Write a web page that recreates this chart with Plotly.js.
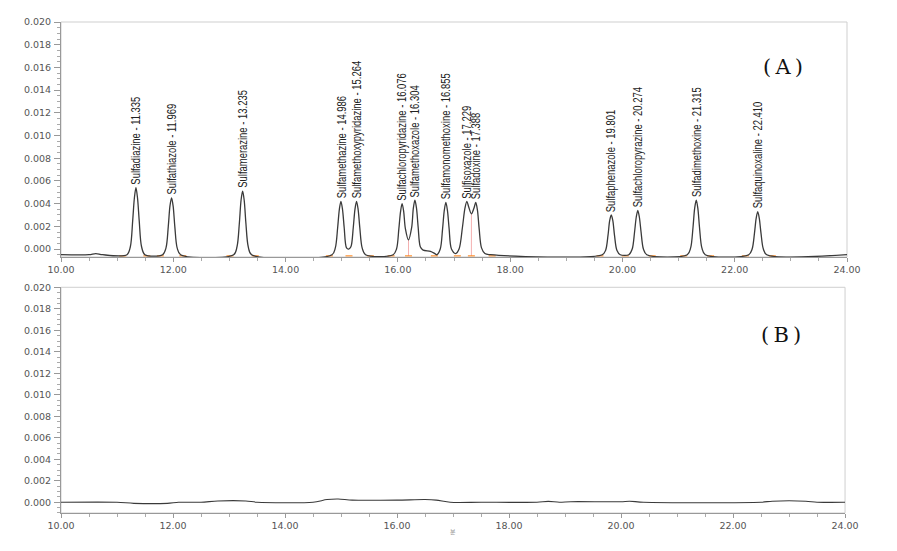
<!DOCTYPE html>
<html>
<head>
<meta charset="utf-8">
<script src="https://cdn.plot.ly/plotly-3.0.1.min.js"></script>
<style>html,body{margin:0;padding:0;background:#fff;}#chart{width:897px;height:551px;}</style>
</head>
<body>
<div id="chart"></div>
<script>
// ---- Data ----
// Panel (A): standard mixture chromatogram (time in min, absorbance)
var timeA = [10.00, 10.50, 10.62, 10.74,
  11.175, 11.235, 11.277, 11.307, 11.335, 11.363, 11.393, 11.435, 11.495,
  11.81, 11.87, 11.911, 11.941, 11.969, 11.997, 12.027, 12.069, 12.13,
  13.075, 13.135, 13.177, 13.207, 13.235, 13.263, 13.293, 13.335, 13.395,
  14.826, 14.886, 14.928, 14.958, 14.986, 15.014, 15.044, 15.086, 15.125,
  15.164, 15.206, 15.236, 15.264, 15.292, 15.322, 15.364, 15.424,
  15.916, 15.976, 16.018, 16.048, 16.076, 16.104, 16.134, 16.19,
  16.246, 16.276, 16.304, 16.332, 16.362, 16.40, 16.45, 16.58, 16.66,
  16.695, 16.755, 16.797, 16.827, 16.855, 16.883, 16.913, 16.955, 17.03,
  17.09, 17.15, 17.195, 17.229, 17.262, 17.31, 17.355, 17.388, 17.418, 17.448, 17.49, 17.55, 17.65,
  19.641, 19.701, 19.743, 19.773, 19.801, 19.829, 19.859, 19.901, 19.961,
  20.114, 20.174, 20.216, 20.246, 20.274, 20.302, 20.332, 20.374, 20.434,
  21.155, 21.215, 21.257, 21.287, 21.315, 21.343, 21.373, 21.415, 21.475,
  22.25, 22.31, 22.352, 22.382, 22.41, 22.438, 22.468, 22.51, 22.57,
  24.00];
var signalA = [-0.0005, -0.0005, -0.0004, -0.0005,
  -0.0005, 0.0002, 0.0025, 0.0045, 0.0054, 0.0045, 0.0025, 0.0002, -0.0005,
  -0.0005, 0.0001, 0.0020, 0.0038, 0.0045, 0.0038, 0.0020, 0.0001, -0.0005,
  -0.0005, 0.0002, 0.0023, 0.0043, 0.0051, 0.0043, 0.0023, 0.0002, -0.0005,
  -0.0005, 0.0001, 0.0019, 0.0035, 0.0042, 0.0035, 0.0019, 0.0001, 0.0000,
  0.0002, 0.0019, 0.0035, 0.0042, 0.0035, 0.0019, 0.0001, -0.0005,
  -0.0005, 0.0000, 0.0018, 0.0033, 0.0040, 0.0033, 0.0018, 0.0008,
  0.0019, 0.0036, 0.0043, 0.0036, 0.0019, 0.0002, -0.0001, -0.0002, -0.0004,
  -0.0005, 0.0000, 0.0018, 0.0034, 0.0041, 0.0034, 0.0018, 0.0000, -0.0004,
  0.0000, 0.0019, 0.0036, 0.0042, 0.0037, 0.0031, 0.0036, 0.0041, 0.0034, 0.0018, 0.0001, -0.0004, -0.0005,
  -0.0005, -0.0001, 0.0012, 0.0025, 0.0030, 0.0025, 0.0012, -0.0001, -0.0005,
  -0.0005, 0.0000, 0.0015, 0.0028, 0.0034, 0.0028, 0.0015, 0.0000, -0.0005,
  -0.0005, 0.0001, 0.0019, 0.0036, 0.0043, 0.0036, 0.0019, 0.0001, -0.0005,
  -0.0005, 0.0000, 0.0014, 0.0027, 0.0033, 0.0027, 0.0014, 0.0000, -0.0005,
  -0.0005];

// Peak labels (panel A)
var peakNames = ["Sulfadiazine", "Sulfathiazole", "Sulfamerazine", "Sulfamethazine",
  "Sulfamethoxypyridazine", "Sulfachloropyridazine", "Sulfamethoxazole", "Sulfamonomethoxine",
  "Sulfisoxazole", "Sulfadoxine", "Sulfaphenazole", "Sulfachloropyrazine",
  "Sulfadimethoxine", "Sulfaquinoxaline"];
var peakTimes = [11.335, 11.969, 13.235, 14.986, 15.264, 16.076, 16.304, 16.855,
  17.229, 17.388, 19.801, 20.274, 21.315, 22.410];
var peakHeights = [0.0054, 0.0045, 0.0051, 0.0042, 0.0042, 0.0040, 0.0043, 0.0041,
  0.0042, 0.0041, 0.0030, 0.0034, 0.0043, 0.0033];

// Integration event marks (panel A)
var eventTimes = [11.10, 11.53, 11.77, 12.17, 13.01, 13.46, 14.78, 15.13, 15.51, 15.88,
  16.19, 16.65, 17.06, 17.31, 17.68, 19.60, 20.05, 20.53, 21.09, 21.57, 22.19, 22.67];
var eventLevel = -0.0006;
var dropTimes = [16.19, 17.31];
var dropTops = [0.0008, 0.0031];

// Panel (B): blank sample chromatogram
var timeB = [10.0, 11.0, 11.3, 11.9, 12.1, 12.5, 12.8, 13.3, 13.5, 14.5, 14.75, 14.95, 15.2,
  16.0, 16.5, 16.7, 16.95, 17.5, 18.5, 18.7, 18.9, 19.1, 20.0, 20.15, 20.4, 22.5, 22.7, 23.3, 23.5, 24.0];
var signalB = [0.0000, 0.0000, -0.0001, -0.0001, 0.0000, 0.0000, 0.00012, 0.00012, 0.0000, 0.0000,
  0.00025, 0.0003, 0.0002, 0.0002, 0.00025, 0.0002, 0.0000, 0.0000, 0.0000, 0.00008, 0.0000,
  0.00005, 0.00005, 0.0001, 0.0000, 0.0000, 0.0001, 0.0001, 0.0000, 0.0000];

var yTicks = [0.000, 0.002, 0.004, 0.006, 0.008, 0.010, 0.012, 0.014, 0.016, 0.018, 0.020];
var xTicks = [10, 12, 14, 16, 18, 20, 22, 24];
var panelLabels = ["(\u2009A\u2009)", "(\u2009B\u2009)"];
var unitLabel = "분";

// ---- Build traces ----
var dropX = [], dropY = [];
for (var i = 0; i < dropTimes.length; i++) {
  dropX.push(dropTimes[i], dropTimes[i], null);
  dropY.push(eventLevel, dropTops[i], null);
}
var evY = eventTimes.map(function(){ return eventLevel; });

var traces = [
  {x: dropX, y: dropY, xaxis: 'x', yaxis: 'y', mode: 'lines', line: {color: '#f4b0b0', width: 1}, hoverinfo: 'skip'},
  {x: eventTimes, y: evY, xaxis: 'x', yaxis: 'y', mode: 'markers',
   marker: {symbol: 'line-ew-open', size: 5, line: {color: '#f29a9a', width: 1}}, hoverinfo: 'skip'},
  {x: timeA, y: signalA, xaxis: 'x', yaxis: 'y', mode: 'lines',
   line: {color: '#3a3a3a', width: 1.3, shape: 'spline', smoothing: 0.9}},
  {x: timeB, y: signalB, xaxis: 'x2', yaxis: 'y2', mode: 'lines',
   line: {color: '#3a3a3a', width: 1.1, shape: 'spline', smoothing: 0.8}}
];

var tickFont = {family: 'DejaVu Sans, sans-serif', size: 9.5, color: '#555'};
function yAxis(domain, range, anchor) {
  return {domain: domain, range: range, anchor: anchor, tickvals: yTicks, tickformat: '.3f',
    ticks: 'outside', ticklen: 6, tickwidth: 1, tickcolor: '#999', showline: true, linecolor: '#999',
    linewidth: 1, showgrid: false, zeroline: false, tickfont: tickFont, ticklabelstandoff: 1,
    minor: {dtick: 0.0005, tick0: 0, ticks: 'outside', ticklen: 3, tickcolor: '#aaa', showgrid: false}};
}
function xAxis(domain, anchor) {
  return {domain: domain, range: [10, 24], anchor: anchor, tickvals: xTicks,
    ticktext: xTicks.map(function(v){ return v.toFixed(2); }),
    ticks: 'outside', ticklen: 4, tickwidth: 1, tickcolor: '#999', showline: true, linecolor: '#999',
    linewidth: 1, showgrid: false, zeroline: false, tickfont: tickFont,
    minor: {dtick: 0.5, tick0: 10, ticks: 'outside', ticklen: 3, tickcolor: '#aaa', showgrid: false}};
}

var annotations = peakNames.map(function(n, i) {
  return {x: peakTimes[i], y: peakHeights[i], xref: 'x', yref: 'y', text: n + ' - ' + peakTimes[i].toFixed(3),
    textangle: -90, showarrow: false, xanchor: 'center', yanchor: 'bottom', yshift: 1,
    font: {family: 'Liberation Sans, Arial, sans-serif', size: 13.5, color: '#222'}};
});
annotations.push({x: 0.9186, y: 0.9084, xref: 'paper', yref: 'paper', text: panelLabels[0], showarrow: false,
  xanchor: 'center', yanchor: 'middle', font: {family: 'DejaVu Serif, Liberation Serif, serif', size: 21, color: '#111'}});
annotations.push({x: 0.916, y: 0.3625, xref: 'paper', yref: 'paper', text: panelLabels[1], showarrow: false,
  xanchor: 'center', yanchor: 'middle', font: {family: 'DejaVu Serif, Liberation Serif, serif', size: 21, color: '#111'}});
annotations.push({x: 0.4987, y: -0.037, xref: 'paper', yref: 'paper', text: unitLabel, showarrow: false,
  xanchor: 'center', yanchor: 'middle', font: {family: 'Noto Sans CJK KR, sans-serif', size: 6, color: '#999'}});

var layout = {
  width: 897, height: 551, showlegend: false,
  margin: {l: 61, r: 50, t: 22, b: 38},
  paper_bgcolor: '#fff', plot_bgcolor: '#fff',
  xaxis: xAxis([0, 1], 'y'),
  yaxis: yAxis([0.5214, 1], [-0.0007, 0.0200], 'x'),
  xaxis2: xAxis([0, 0.9975], 'y2'),
  yaxis2: yAxis([0, 0.4597], [-0.001, 0.0200], 'x2'),
  shapes: [
    {type: 'rect', xref: 'x domain', yref: 'y domain', x0: 0, x1: 1, y0: 0, y1: 1, line: {color: '#cfcfcf', width: 1}, layer: 'below'},
    {type: 'rect', xref: 'x2 domain', yref: 'y2 domain', x0: 0, x1: 1, y0: 0, y1: 1, line: {color: '#cfcfcf', width: 1}, layer: 'below'}
  ],
  annotations: annotations
};

// Condense the peak labels (narrow sans look) along their reading direction
function condenseLabels(gd) {
  var k = 0.70;
  for (var i = 0; i < peakNames.length; i++) {
    var t = gd.querySelector('g.annotation[data-index="' + i + '"] text.annotation-text');
    if (!t) continue;
    var bb = t.getBBox();
    var prev = t.getAttribute('transform') || '';
    t.setAttribute('transform', prev + ' translate(' + bb.x + ',0) scale(' + k + ',1) translate(' + (-bb.x) + ',0)');
  }
}

Plotly.newPlot('chart', traces, layout, {displayModeBar: false, staticPlot: true}).then(condenseLabels);
</script>
</body>
</html>
